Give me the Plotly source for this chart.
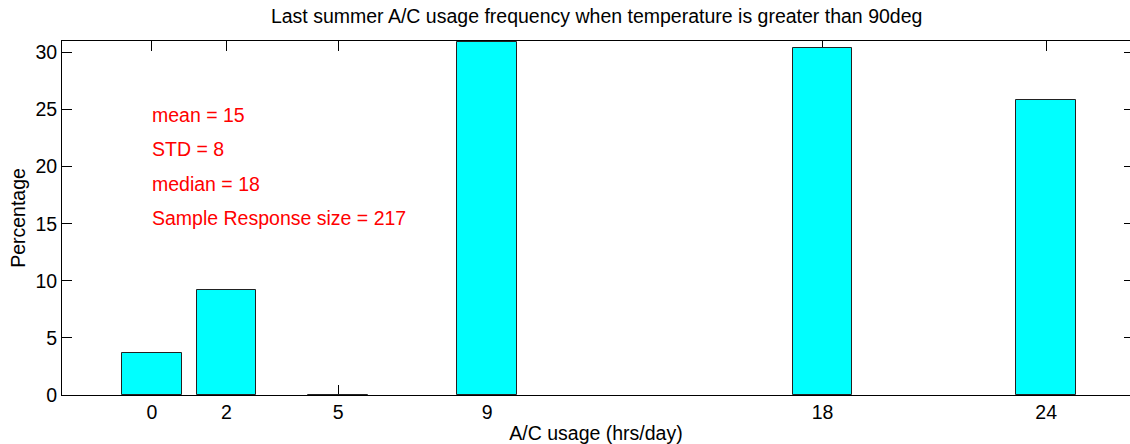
import plotly.graph_objects as go

hours = [0, 2, 5, 9, 18, 24]
percent = [3.69, 9.22, 0.0, 30.88, 30.41, 25.81]
x_ticks = [0, 2, 5, 9, 18, 24]
y_ticks = [0, 5, 10, 15, 20, 25, 30]
stats_text = ["mean = 15", "STD = 8", "median = 18", "Sample Response size = 217"]
stats_y = [24.5, 21.5, 18.5, 15.5]

FONT = "Liberation Sans, Arial, Helvetica, sans-serif"
FS = 19.5

fig = go.Figure()
fig.add_trace(go.Bar(
    x=hours, y=percent, width=1.6,
    marker=dict(color="#00FFFF", line=dict(color="#222222", width=1)),
    showlegend=False, hoverinfo="x+y",
))
# invisible trace for right-side ticks
fig.add_trace(go.Scatter(x=[None], y=[None], yaxis="y2", showlegend=False, hoverinfo="skip"))

for t, yy in zip(stats_text, stats_y):
    fig.add_annotation(x=0, y=yy, xref="x", yref="y", text=t, showarrow=False,
                       xanchor="left", yanchor="middle", xshift=-2,
                       font=dict(family=FONT, size=FS, color="#FF0000"))

fig.update_layout(
    width=1130, height=444,
    margin=dict(l=62, r=0, t=41, b=49, autoexpand=False),
    paper_bgcolor="white", plot_bgcolor="white",
    font=dict(family=FONT, size=FS, color="black"),
    title=dict(text="Last summer A/C usage frequency when temperature is greater than 90deg",
               x=0.528, xanchor="center", y=0.964, yanchor="middle",
               font=dict(family=FONT, size=FS, color="black")),
    xaxis=dict(range=[-2.41, 26.25], tickvals=x_ticks, ticktext=[str(v) for v in x_ticks],
               ticks="inside", ticklen=10, tickcolor="black", tickwidth=1,
               showline=True, linecolor="black", linewidth=1, mirror="ticks",
               showgrid=False, zeroline=False, layer="below traces", automargin=False,
               title=dict(text="A/C usage (hrs/day)", standoff=3,
                          font=dict(family=FONT, size=FS)),
               tickfont=dict(family=FONT, size=FS)),
    yaxis=dict(range=[0, 31], tickvals=y_ticks,
               ticks="inside", ticklen=10, tickcolor="black", tickwidth=1,
               showline=True, linecolor="black", linewidth=1,
               showgrid=False, zeroline=False, layer="below traces", automargin=False,
               title=dict(text="Percentage", standoff=4,
                          font=dict(family=FONT, size=FS)),
               tickfont=dict(family=FONT, size=FS)),
    yaxis2=dict(range=[0, 31], tickvals=y_ticks, overlaying="y", side="right",
                ticks="inside", ticklen=6, tickcolor="black", tickwidth=1, automargin=False,
                showline=False, showticklabels=False, showgrid=False, zeroline=False),
    bargap=0,
)

fig.write_html("out.html", config={"displayModeBar": False},
               post_script="document.body.style.margin='0';document.body.style.overflow='hidden';")
